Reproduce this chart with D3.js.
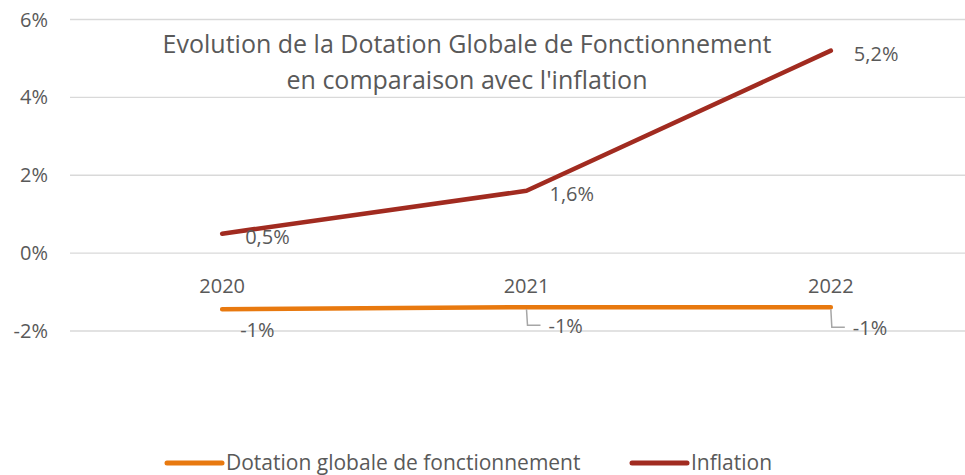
<!DOCTYPE html>
<html>
<head>
<meta charset="utf-8">
<script src="https://cdn.jsdelivr.net/npm/d3@7"></script>
<style>
  body { margin: 0; background: #fff; }
  svg { display: block; font-family: "Open Sans", sans-serif; }
</style>
</head>
<body>
<svg id="chart" width="965" height="475"></svg>
<script>
// data
var years = ["2020", "2021", "2022"];
var dgf = [-1.44, -1.39, -1.39];
var inflation = [0.5, 1.6, 5.2];
var dgfLabels = ["-1%", "-1%", "-1%"];
var inflationLabels = ["0,5%", "1,6%", "5,2%"];
var yTicks = [-2, 0, 2, 4, 6];
var seriesNames = ["Dotation globale de fonctionnement", "Inflation"];
var titleLines = ["Evolution de la Dotation Globale de Fonctionnement", "en comparaison avec l'inflation"];

var colors = ["#E8790F", "#A12B20"];
var textColor = "#595959";

var svg = d3.select("#chart");

var x = d3.scaleBand().domain(years).range([70, 983]);
var y = d3.scaleLinear().domain([-2, 6]).range([331, 19.5]);
var cx = d => x(d) + x.bandwidth() / 2;

// gridlines
svg.append("g")
    .selectAll("line")
    .data(yTicks)
    .enter().append("line")
    .attr("x1", 70)
    .attr("x2", 965)
    .attr("y1", d => y(d))
    .attr("y2", d => y(d))
    .attr("stroke", "#d9d9d9")
    .attr("stroke-width", 1.3);

// y tick labels
svg.append("g")
    .selectAll("text")
    .data(yTicks)
    .enter().append("text")
    .attr("x", 48)
    .attr("y", d => y(d))
    .attr("dy", "0.35em")
    .attr("text-anchor", "end")
    .attr("fill", textColor)
    .style("font-size", "20px")
    .text(d => d + "%");

// category labels next to the zero line
svg.append("g")
    .selectAll("text")
    .data(years)
    .enter().append("text")
    .attr("x", d => cx(d))
    .attr("y", y(0) + 40)
    .attr("text-anchor", "middle")
    .attr("fill", textColor)
    .style("font-size", "20px")
    .text(d => d);

// title
svg.append("text")
    .attr("x", 467)
    .attr("y", 53)
    .attr("text-anchor", "middle")
    .attr("fill", textColor)
    .style("font-size", "25px")
    .selectAll("tspan")
    .data(titleLines)
    .enter().append("tspan")
    .attr("x", 467)
    .attr("dy", (d, i) => i == 0 ? 0 : 36)
    .text(d => d);

// lines
var line = d3.line()
    .x(d => cx(d.year))
    .y(d => y(d.value));

var series = [dgf, inflation].map(function (vals) {
    return years.map((yr, i) => ({ year: yr, value: vals[i] }));
});

svg.append("g")
    .selectAll("path")
    .data(series)
    .enter().append("path")
    .attr("d", line)
    .attr("fill", "none")
    .attr("stroke", (d, i) => colors[i])
    .attr("stroke-width", 4.5)
    .attr("stroke-linecap", "round")
    .attr("stroke-linejoin", "round");

// inflation labels, right of points
svg.append("g")
    .selectAll("text")
    .data(series[1])
    .enter().append("text")
    .attr("x", d => cx(d.year) + 23)
    .attr("y", d => y(d.value) + 3)
    .attr("dy", "0.35em")
    .attr("fill", textColor)
    .style("font-size", "20px")
    .text((d, i) => inflationLabels[i]);

// dgf labels, below with leader lines for the last two
var dgfOffsets = [{ dx: 18, dy: 21 }, { dx: 22, dy: 19 }, { dx: 22, dy: 21 }];

svg.append("g")
    .selectAll("path")
    .data(series[0].slice(1))
    .enter().append("path")
    .attr("d", function (d, i) {
        var o = dgfOffsets[i + 1];
        var px = cx(d.year), py = y(d.value);
        return "M" + px + "," + (py + 2) + "L" + (px + 1) + "," + (py + o.dy - 1) + "L" + (px + o.dx - 8) + "," + (py + o.dy - 1);
    })
    .attr("fill", "none")
    .attr("stroke", "#a6a6a6")
    .attr("stroke-width", 1.5);

svg.append("g")
    .selectAll("text")
    .data(series[0])
    .enter().append("text")
    .attr("x", (d, i) => cx(d.year) + dgfOffsets[i].dx)
    .attr("y", (d, i) => y(d.value) + dgfOffsets[i].dy)
    .attr("dy", "0.35em")
    .attr("fill", textColor)
    .style("font-size", "20px")
    .text((d, i) => dgfLabels[i]);

// legend
var legendX = [167, 632];
var legend = svg.append("g")
    .selectAll("g")
    .data(seriesNames)
    .enter().append("g")
    .attr("transform", (d, i) => "translate(" + legendX[i] + ",463)");

legend.append("line")
    .attr("x1", 0)
    .attr("x2", 55)
    .attr("stroke", (d, i) => colors[i])
    .attr("stroke-width", 5)
    .attr("stroke-linecap", "round");

legend.append("text")
    .attr("x", 59)
    .attr("dy", "0.35em")
    .attr("fill", textColor)
    .style("font-size", "21px")
    .text(d => d);
</script>
</body>
</html>
